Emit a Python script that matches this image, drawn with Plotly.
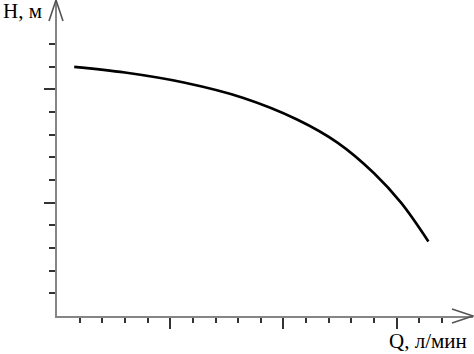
import plotly.graph_objects as go

# Pump curve H(Q), in axis tick units
q_vals = [0.76, 3.00, 5.60, 8.20, 10.60, 12.40, 14.00, 15.20, 16.40]
h_vals = [10.99, 10.74, 10.30, 9.63, 8.67, 7.64, 6.30, 4.99, 3.29]

x_major = [5, 10, 15]
x_minor = [v for v in range(1, 18) if v not in x_major]
y_major = [5, 10]
y_minor = [v for v in range(1, 13) if v not in y_major]

x_label = "Q, л/мин"
y_label = "H, м"

X_MAX = 18.37
Y_MAX = 13.94

fig = go.Figure()
fig.add_trace(go.Scatter(
    x=q_vals, y=h_vals, mode="lines",
    line=dict(color="black", width=2.6, shape="spline", smoothing=1.0),
    hoverinfo="skip", showlegend=False,
))

axis_common = dict(
    showline=True, linecolor="#858585", linewidth=2,
    showgrid=False, zeroline=False, showticklabels=False,
    ticks="outside", tickcolor="#333333", tickwidth=2, ticklen=11,
    tickmode="array",
)

fig.update_layout(
    width=474, height=354,
    margin=dict(l=57, r=1, t=0, b=38),
    paper_bgcolor="white", plot_bgcolor="white",
    xaxis=dict(range=[0, X_MAX], tickvals=x_major,
               minor=dict(tickmode="array", tickvals=x_minor, ticks="outside",
                          ticklen=5, tickwidth=1.6, tickcolor="#333333"),
               **axis_common),
    yaxis=dict(range=[0, Y_MAX], tickvals=y_major,
               minor=dict(tickmode="array", tickvals=y_minor, ticks="outside",
                          ticklen=6, tickwidth=1.6, tickcolor="#333333"),
               **axis_common),
    font=dict(family="Liberation Serif", color="black"),
)

# Arrow heads at the ends of axes (paper-anchored, pixel-sized, not clipped)
fig.add_shape(type="path", xref="paper", yref="paper",
              xsizemode="pixel", ysizemode="pixel",
              xanchor=1.0, yanchor=0, layer="above",
              path="M -21,7 L 0,0 L -21,-7",
              line=dict(color="#555555", width=1.6))
fig.add_shape(type="path", xref="paper", yref="paper",
              xsizemode="pixel", ysizemode="pixel",
              xanchor=0, yanchor=1.0, layer="above",
              path="M -8,-21 L -1,0 L 6,-21",
              line=dict(color="#555555", width=1.6))

fig.add_annotation(text=y_label, xref="paper", yref="paper",
                   x=(1-57)/416, y=(316-11)/316, xanchor="left", yanchor="middle",
                   showarrow=False, font=dict(size=21, family="Liberation Serif", color="black"))
fig.add_annotation(text=x_label, xref="paper", yref="paper",
                   x=(428-57)/416, y=(316-341)/316, xanchor="center", yanchor="middle",
                   showarrow=False, font=dict(size=21, family="Liberation Serif", color="black"))

fig.write_html("out.html")
